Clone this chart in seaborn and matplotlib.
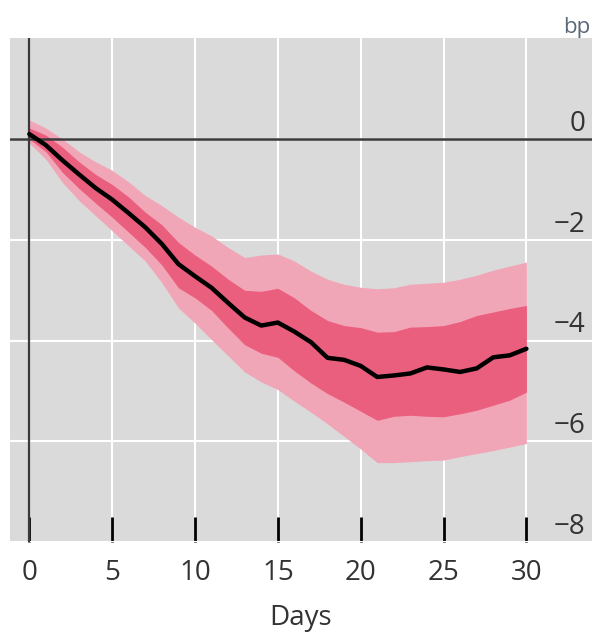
import numpy as np
import pandas as pd
import matplotlib
matplotlib.use("Agg")
import matplotlib.pyplot as plt
import seaborn as sns

# ---- data ----
days = list(range(31))
median = [0.10, -0.12, -0.42, -0.70, -0.97, -1.20, -1.47, -1.75, -2.08, -2.48,
          -2.72, -2.95, -3.25, -3.54, -3.70, -3.64, -3.82, -4.03, -4.34, -4.38,
          -4.50, -4.72, -4.69, -4.65, -4.53, -4.57, -4.62, -4.55, -4.33, -4.29, -4.16]
inner_hi = [0.22, 0.08, -0.16, -0.45, -0.70, -0.90, -1.15, -1.45, -1.70, -2.05,
            -2.30, -2.52, -2.78, -3.00, -3.02, -2.96, -3.15, -3.40, -3.60, -3.70,
            -3.74, -3.83, -3.82, -3.73, -3.72, -3.70, -3.62, -3.50, -3.43, -3.36, -3.30]
inner_lo = [0.00, -0.25, -0.66, -0.98, -1.27, -1.55, -1.85, -2.15, -2.50, -2.95,
            -3.15, -3.40, -3.75, -4.08, -4.25, -4.33, -4.60, -4.84, -5.05, -5.22,
            -5.40, -5.58, -5.50, -5.48, -5.50, -5.51, -5.45, -5.38, -5.28, -5.18, -5.02]
outer_hi = [0.38, 0.22, 0.00, -0.25, -0.45, -0.62, -0.85, -1.12, -1.32, -1.55,
            -1.75, -1.92, -2.15, -2.35, -2.30, -2.28, -2.42, -2.62, -2.78, -2.88,
            -2.94, -2.97, -2.95, -2.88, -2.86, -2.84, -2.78, -2.70, -2.60, -2.52, -2.44]
outer_lo = [-0.08, -0.40, -0.86, -1.22, -1.52, -1.82, -2.12, -2.42, -2.85, -3.35,
            -3.65, -3.98, -4.30, -4.62, -4.82, -4.97, -5.20, -5.42, -5.65, -5.90,
            -6.15, -6.42, -6.42, -6.40, -6.38, -6.37, -6.30, -6.24, -6.18, -6.11, -6.04]
x_ticks = [0, 5, 10, 15, 20, 25, 30]
y_ticks = [0, -2, -4, -6, -8]
y_tick_labels = ["0", "\u22122", "\u22124", "\u22126", "\u22128"]
unit_label = "bp"
x_label = "Days"

# ---- style ----
sns.set_style("white")
plt.rcParams['font.family'] = ['Open Sans', 'DejaVu Sans']

BG = "#DADADA"
OUTER = "#F1A6B8"
INNER = "#EB5F7E"
TXT = "#333333"

fig = plt.figure(figsize=(5.92, 6.32), dpi=100)
fig.patch.set_facecolor("white")
ax = fig.add_axes([10 / 592, (632 - 542.3) / 632, 582 / 592, 504 / 632])
ax.set_facecolor(BG)

df = pd.DataFrame({"day": days, "median": median})

ax.fill_between(days, outer_lo, outer_hi, color=OUTER, lw=0, zorder=2)
ax.fill_between(days, inner_lo, inner_hi, color=INNER, lw=0, zorder=3)
ax.axhline(0, color="#3a3a3a", lw=1.8, zorder=4)
ax.axvline(0, color="#3a3a3a", lw=1.6, zorder=4)
sns.lineplot(data=df, x="day", y="median", color="black", lw=3.2, ax=ax, zorder=5)

ax.set_xlim(-1.165, 33.96)
ax.set_ylim(-8, 2)
ax.set_xticks(x_ticks)
ax.set_yticks(y_ticks)
ax.grid(True, color="white", lw=1.5)
ax.set_axisbelow(True)
for s in ax.spines.values():
    s.set_visible(False)

ax.tick_params(axis="x", direction="in", length=18, width=2, color="black",
               labelsize=20, labelcolor=TXT, pad=12, bottom=True)
ax.tick_params(axis="y", left=False, labelleft=False)
ax.set_xlabel(x_label, fontsize=20, color=TXT, labelpad=12)
ax.set_ylabel("")

trans = matplotlib.transforms.blended_transform_factory(ax.transAxes, ax.transData)
for v, lab in zip(y_ticks, y_tick_labels):
    ax.annotate(lab, xy=(0.988, v), xycoords=trans, xytext=(0, 6),
                textcoords="offset points", ha="right", va="baseline",
                fontsize=20, color=TXT, zorder=6)

fig.text(590 / 592, 1 - 28 / 632, unit_label, ha="right", va="center",
         fontsize=16, color="#5a6878")

fig.savefig("out.png", dpi=100)
